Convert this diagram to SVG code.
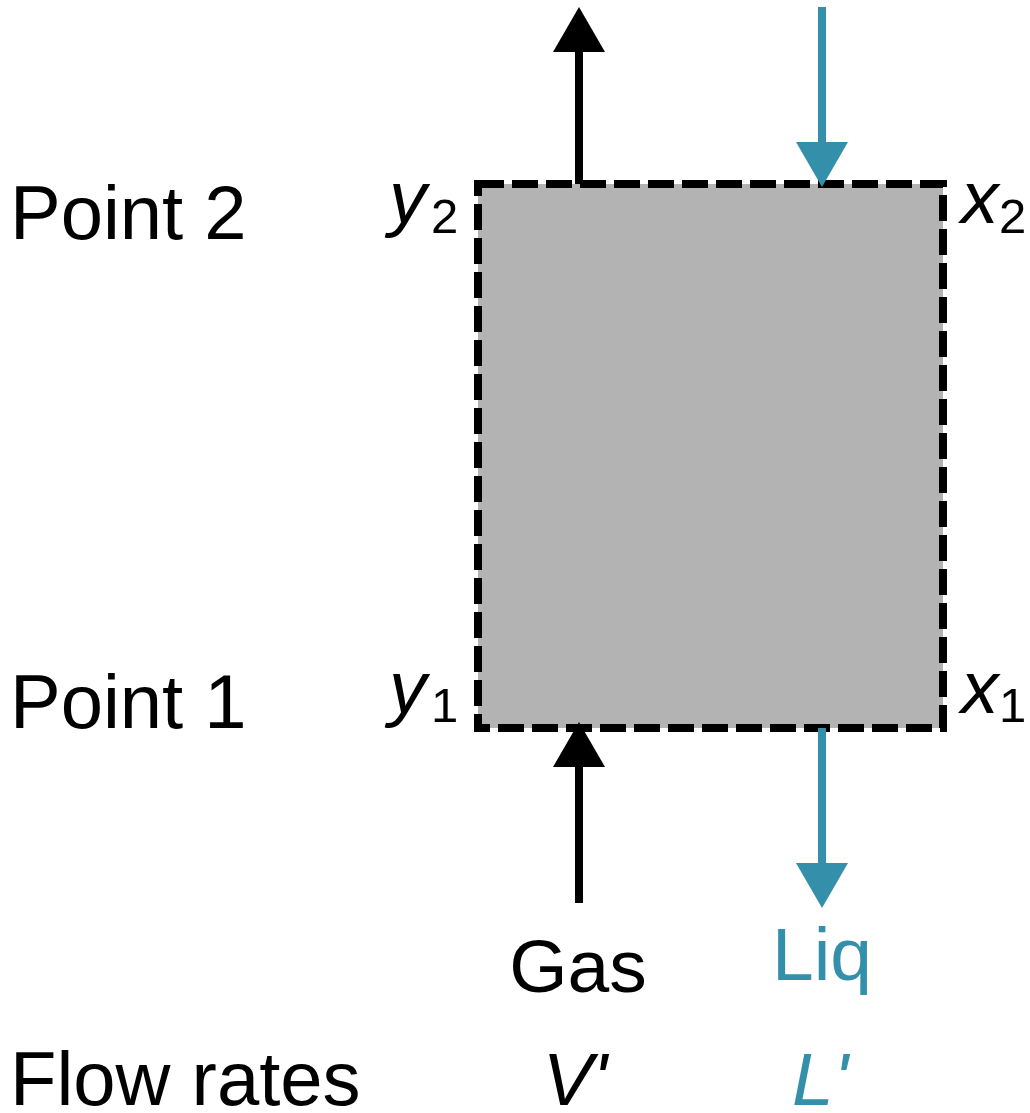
<svg xmlns="http://www.w3.org/2000/svg" width="1030" height="1113" viewBox="0 0 1030 1113">
  <style>
    text { font-family: "Liberation Sans", Arial, sans-serif; font-size: 75px; fill: #000; }
    .row { font-size: 76px; }
    .it { font-style: italic; }
    .sub { font-size: 49px; font-style: normal; }
    .liq { fill: #3490aa; }
    .gas-line { stroke: #000; stroke-width: 8; fill: none; }
    .liq-line { stroke: #3490aa; stroke-width: 8; fill: none; }
  </style>
  <defs>
    <marker id="head-black" viewBox="0 0 45 52" refX="0" refY="26" markerWidth="45" markerHeight="52" markerUnits="userSpaceOnUse" orient="auto">
      <path d="M0,0 L45,26 L0,52 Z" fill="#000"/>
    </marker>
    <marker id="head-teal" viewBox="0 0 45 52" refX="0" refY="26" markerWidth="45" markerHeight="52" markerUnits="userSpaceOnUse" orient="auto">
      <path d="M0,0 L45,26 L0,52 Z" fill="#3490aa"/>
    </marker>
  </defs>

  <!-- control volume -->
  <g id="column">
    <rect x="478" y="184" width="465" height="544" fill="#b3b3b3"/>
    <rect x="478" y="184" width="465" height="544" fill="none" stroke="#000" stroke-width="8" stroke-dasharray="26 8"/>
  </g>

  <!-- gas and liquid streams -->
  <g id="connectors">
    <line class="gas-line" x1="579" y1="184" x2="579" y2="52" marker-end="url(#head-black)"/>
    <line class="gas-line" x1="579" y1="903" x2="579" y2="767" marker-end="url(#head-black)"/>
    <line class="liq-line" x1="822" y1="7" x2="822" y2="142" marker-end="url(#head-teal)"/>
    <line class="liq-line" x1="822" y1="728" x2="822" y2="863" marker-end="url(#head-teal)"/>
  </g>

  <!-- row labels -->
  <g id="point2-label"><text class="row" x="10" y="239">Point 2</text></g>
  <g id="point1-label"><text class="row" x="10" y="728">Point 1</text></g>
  <g id="flow-label"><text class="row" x="10" y="1105">Flow rates</text></g>

  <!-- compositions at the column ends -->
  <g id="y2"><text class="it" x="389" y="223">y<tspan class="sub" x="431" y="233">2</tspan></text></g>
  <g id="y1"><text class="it" x="389" y="713">y<tspan class="sub" x="431" y="722">1</tspan></text></g>
  <g id="x2"><text class="it" x="961" y="223">x<tspan class="sub" x="999" y="233">2</tspan></text></g>
  <g id="x1"><text class="it" x="961" y="713">x<tspan class="sub" x="999" y="722">1</tspan></text></g>

  <!-- stream names and flow rates -->
  <g id="gas-label"><text x="578" y="992" text-anchor="middle">Gas</text></g>
  <g id="liq-label"><text class="liq" x="822" y="980" text-anchor="middle">Liq</text></g>
  <g id="vprime"><text class="it" x="575" y="1105" text-anchor="middle">V'</text></g>
  <g id="lprime"><text class="it liq" x="820" y="1105" text-anchor="middle">L'</text></g>
</svg>
